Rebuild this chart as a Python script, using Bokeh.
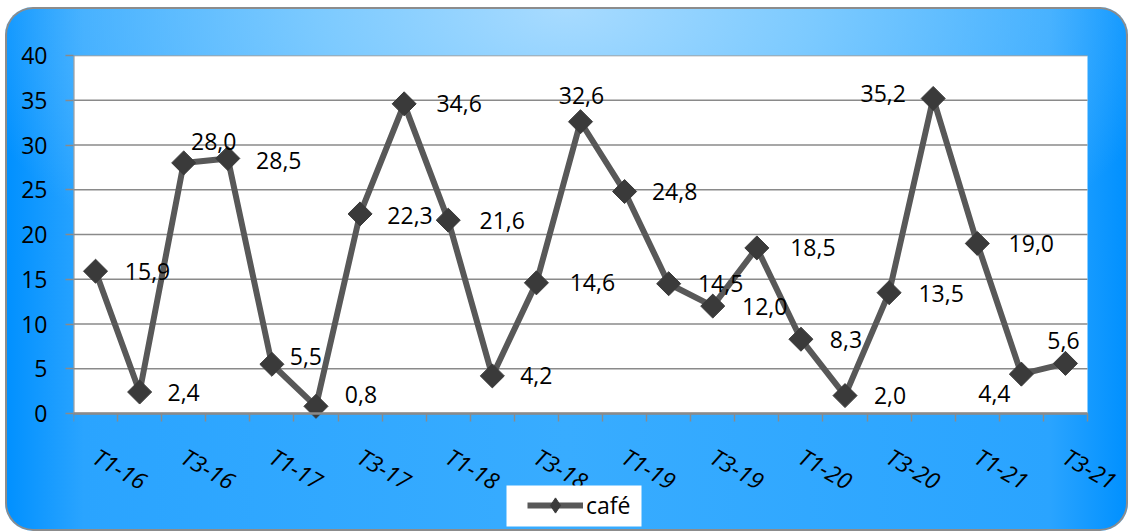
import numpy as np
from bokeh.plotting import figure
from bokeh.models import Range1d, FixedTicker, ColumnDataSource, BoxAnnotation, Legend, LegendItem
from bokeh.core.properties import value
from bokeh.embed import file_html
from bokeh.resources import INLINE

# ---- data ----
quarters = ["T1-16", "T2-16", "T3-16", "T4-16",
            "T1-17", "T2-17", "T3-17", "T4-17",
            "T1-18", "T2-18", "T3-18", "T4-18",
            "T1-19", "T2-19", "T3-19", "T4-19",
            "T1-20", "T2-20", "T3-20", "T4-20",
            "T1-21", "T2-21", "T3-21"]
cafe = [15.9, 2.4, 28.0, 28.5, 5.5, 0.8, 22.3, 34.6, 21.6, 4.2, 14.6, 32.6,
        24.8, 14.5, 12.0, 18.5, 8.3, 2.0, 13.5, 35.2, 19.0, 4.4, 5.6]
y_ticks = [0, 5, 10, 15, 20, 25, 30, 35, 40]
series_name = "café"

# ---- label placement (style, screen px; +dy = down) ----
label_dx = [52, 44, 30, 51, 34, 45, 50, 55, 54, 44, 56, 1, 50, 52, 52, 56,
            45, 45, 52, -50, 54, -27, -2]
label_dy = [0, 0, -21, 2, -8, -12, 2, 0, 0, 0, 0, -26, 0, 0, 0, 0,
            0, 0, 1, -5, 0, 19, -23]

FONT = "Open Sans"
GRAY = "#8a8a8a"

# layout (px)
W, H = 1123, 524
LEFT, TOP = 68, 48
PLOT_W, PLOT_H = 1014, 358
YMAX = y_ticks[-1]
n = len(quarters)
EXTRA_B = H - TOP - PLOT_H          # frame continues below the value axis
EXTRA_R = W - LEFT - PLOT_W         # and right of the last category
ymin = -EXTRA_B * YMAX / PLOT_H
x0, x1 = -0.5, n - 0.5
xmax = x1 + EXTRA_R * n / PLOT_W

x = list(range(n))
labels = [f"{v:.1f}".replace(".", ",") for v in cafe]
src = ColumnDataSource(dict(x=x, y=cafe, lab=labels, dx=label_dx, dy=label_dy))

p = figure(frame_width=W - LEFT, frame_height=H - TOP,
           min_border_left=LEFT, min_border_right=0,
           min_border_top=TOP, min_border_bottom=0,
           x_range=Range1d(x0, xmax), y_range=Range1d(ymin, YMAX),
           output_backend="svg", toolbar_location=None)

p.background_fill_alpha = 0
p.border_fill_alpha = 0
p.outline_line_color = None
p.styles = {
    "margin-left": "5px",
    "margin-top": "7px",
    "background": ("radial-gradient(ellipse 55% 65% at 50% 0%, #a8dbff 0%, #7ccaff 40%, rgba(60,175,255,0) 100%), "
                   "linear-gradient(to right, #0090ff 0%, #2aa4ff 7%, #38acff 50%, #2aa4ff 93%, #0090ff 100%)"),
    "border-radius": "28px",
    "box-shadow": "inset 0 0 0 2px #8c8c8c",
}

# white plotting area
p.add_layout(BoxAnnotation(left=x0, right=x1, bottom=0, top=YMAX,
                           fill_color="white", fill_alpha=1, line_color=None,
                           level="underlay"))

# horizontal grid lines, limited to the plotting area
p.xgrid.grid_line_color = None
p.ygrid.grid_line_color = None
p.segment(x0=[x0] * len(y_ticks), y0=y_ticks, x1=[x1] * len(y_ticks), y1=y_ticks,
          line_color=GRAY, line_width=1.5)

# y axis
p.yaxis.ticker = FixedTicker(ticks=y_ticks)
p.yaxis.axis_line_color = None
p.yaxis.major_tick_line_color = GRAY
p.yaxis.major_tick_line_width = 1.5
p.yaxis.major_tick_out = 8
p.yaxis.major_tick_in = 0
p.yaxis.minor_tick_line_color = None
p.yaxis.major_label_standoff = 18
p.yaxis.major_label_text_font = FONT
p.yaxis.major_label_text_font_size = "23px"
p.yaxis.major_label_text_color = "black"
p.segment(x0=[x0], y0=[0], x1=[x0], y1=[YMAX], line_color=GRAY, line_width=2)

# x axis at value 0
major = x[::2]
minor = [i - 0.5 for i in range(n + 1)]
p.xaxis.fixed_location = 0
p.xaxis.bounds = (x0, x1)
p.xaxis.ticker = FixedTicker(ticks=major, minor_ticks=minor)
p.xaxis.major_label_overrides = {i: quarters[i] for i in major}
p.xaxis.axis_line_color = GRAY
p.xaxis.axis_line_width = 2.5
p.xaxis.major_tick_line_color = None
p.xaxis.minor_tick_line_color = GRAY
p.xaxis.minor_tick_line_width = 1.5
p.xaxis.minor_tick_out = 8
p.xaxis.minor_tick_in = 0
p.xaxis.major_label_orientation = -0.52
p.xaxis.major_label_standoff = 33
p.xaxis.major_label_text_font = FONT
p.xaxis.major_label_text_font_style = "italic"
p.xaxis.major_label_text_font_size = "23px"
p.xaxis.major_label_text_color = "black"

r_line = p.line("x", "y", source=src, line_color="#585858", line_width=6, line_join="round")
r_pts = p.scatter("x", "y", source=src, marker="square", angle=np.pi / 4, size=17,
                  fill_color="#3a3a3a", line_color="#3a3a3a")
# legend-only glyph (legend markers are drawn unrotated); its single point is NaN, so never drawn
r_leg = p.scatter(x=[np.nan], y=[np.nan], marker="diamond", size=17,
                  fill_color="#3a3a3a", line_color="#3a3a3a")

p.text("x", "y", text="lab", source=src, x_offset="dx", y_offset="dy",
       text_align="center", text_baseline="middle",
       text_font=value(FONT), text_font_size="23px", text_color="black")

# legend: white box + transparent legend on top
p.add_layout(BoxAnnotation(left=501, right=636, top=478, bottom=519,
                           left_units="canvas", right_units="canvas",
                           top_units="canvas", bottom_units="canvas",
                           fill_color="white", fill_alpha=1, line_color=None))
leg = Legend(items=[LegendItem(label=series_name, renderers=[r_line, r_leg])],
             location=(454, 7))
leg.background_fill_alpha = 0
leg.border_line_color = None
leg.label_text_font = FONT
leg.label_text_font_size = "23px"
leg.label_text_color = "black"
leg.glyph_width = 56
leg.glyph_height = 38
leg.label_height = 38
leg.padding = 0
leg.margin = 0
leg.label_standoff = 3
p.add_layout(leg, "center")

open("out.html", "w").write(file_html(p, INLINE))
